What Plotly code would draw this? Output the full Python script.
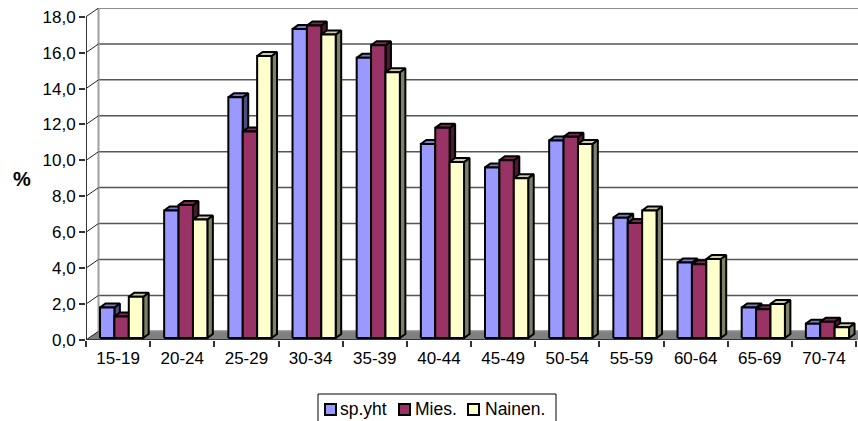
import plotly.graph_objects as go

categories = ["15-19","20-24","25-29","30-34","35-39","40-44","45-49","50-54","55-59","60-64","65-69","70-74"]
sp_yht = [1.7,7.1,13.4,17.2,15.6,10.8,9.5,11.0,6.7,4.2,1.7,0.8]
mies = [1.2,7.4,11.5,17.4,16.3,11.7,9.9,11.2,6.4,4.1,1.6,0.9]
nainen = [2.3,6.6,15.7,16.9,14.8,9.8,8.9,10.8,7.1,4.4,1.9,0.6]
series_names = ["sp.yht","Mies.","Nainen."]
y_ticks = [0,2,4,6,8,10,12,14,16,18]

W, H = 858, 421
L, T, B = 86, 8, 340
PX_X = 64.17
PX_Y = 17.96
x_min = -0.5
x_max = x_min + (W - L) / PX_X
y_max = (B - T) / PX_Y
FONT = "Liberation Sans"

wall_dx = 12.5 / PX_X
wall_dy = 8.7 / PX_Y
bar_w = 14.4 / PX_X
bar_dx = 5.5 / PX_X
bar_dy = 4.0 / PX_Y
lift = 2.0 / PX_Y
shift = 3.5 / PX_X

front = ["#9999FF", "#993366", "#FFFFCC"]
top = ["#7A7ACC", "#7A2952", "#CCCCA3"]
side = ["#4D4D80", "#4D1A33", "#808066"]
all_values = [sp_yht, mies, nainen]

fig = go.Figure()

def poly(xs, ys, fill=None, color="black", width=1.0):
    fig.add_trace(go.Scatter(
        x=xs, y=ys, mode="lines", fill="toself" if fill else "none",
        fillcolor=fill, line=dict(color=color, width=width),
        hoverinfo="skip", showlegend=False))

# floor
poly([x_min, x_max, x_max, x_min + wall_dx, x_min],
     [0, 0, wall_dy, wall_dy, 0], fill="#808080", color="#808080", width=0.5)

# back wall gridlines and left wall
for v in y_ticks:
    col = "#8c8c8c" if v in (0, 18) else "#555555"
    w = 2 if v in (0, 18) else 1.5
    poly([x_min + wall_dx, x_max], [v + wall_dy, v + wall_dy], color=col, width=w)
poly([x_min + wall_dx, x_min + wall_dx], [wall_dy, 18 + wall_dy], color="#a0a0a0", width=2)
for v in y_ticks:
    poly([x_min, x_min + wall_dx], [v, v + wall_dy], color="#222222", width=1)

# bars
for i in range(len(categories)):
    for s in range(3):
        v = all_values[s][i]
        x0 = i + shift + (s - 1.5) * bar_w
        x1 = x0 + bar_w
        y0 = lift
        y1 = lift + v
        poly([x1, x1 + bar_dx, x1 + bar_dx, x1, x1],
             [y0, y0 + bar_dy, y1 + bar_dy, y1, y0], fill=side[s], width=2)
        poly([x0, x0 + bar_dx, x1 + bar_dx, x1, x0],
             [y1, y1 + bar_dy, y1 + bar_dy, y1, y1], fill=top[s], width=2)
        poly([x0, x1, x1, x0, x0], [y0, y0, y1, y1, y0], fill=front[s], width=2)

# front axis lines
poly([x_min, x_min], [0, 18], color="#333333", width=2)
poly([x_min, x_min + 12], [0, 0], color="#333333", width=2)

shapes = [dict(type="rect", xref="paper", yref="paper",
               x0=(318 - L) / (W - L), x1=(556 - L) / (W - L),
               y0=(B - 424) / (B - T), y1=(B - 394) / (B - T),
               line=dict(color="black", width=1), fillcolor="white")]
annotations = [dict(text="<b>%</b>", xref="paper", yref="paper",
                    x=(21.5 - L) / (W - L), y=(B - 179) / (B - T),
                    xanchor="center", yanchor="middle",
                    showarrow=False, font=dict(family=FONT, size=20, color="black"))]
sw_x = [325, 399, 468]
txt_x = [340, 415, 485]
for s, name in enumerate(series_names):
    shapes.append(dict(type="rect", xref="paper", yref="paper",
                       x0=(sw_x[s] - L) / (W - L), x1=(sw_x[s] + 11 - L) / (W - L),
                       y0=(B - 415) / (B - T), y1=(B - 404) / (B - T),
                       line=dict(color="black", width=2), fillcolor=front[s]))
    annotations.append(dict(text=name, xref="paper", yref="paper",
                            x=(txt_x[s] - L) / (W - L), y=(B - 409) / (B - T),
                            xanchor="left", yanchor="middle", showarrow=False, xshift=-2,
                            font=dict(family=FONT, size=17.5, color="black")))

fig.update_layout(
    width=W, height=H, autosize=False,
    margin=dict(l=L, r=0, t=T, b=H - B, pad=0),
    paper_bgcolor="white", plot_bgcolor="white",
    separators=", ", showlegend=False, shapes=shapes, annotations=annotations,
    font=dict(family=FONT, size=17, color="black"),
    xaxis=dict(range=[x_min, x_max], tickmode="array", tickvals=list(range(len(categories))),
               ticktext=categories, ticks="", showgrid=False, zeroline=False, showline=False,
               tickfont=dict(size=17), ticklabelstandoff=6,
               minor=dict(tickmode="array", tickvals=[i - 0.5 for i in range(13)],
                          ticks="outside", ticklen=6, tickcolor="#333333", tickwidth=1.5, showgrid=False)),
    yaxis=dict(range=[0, y_max], tickmode="array", tickvals=y_ticks, tickformat=".1f",
               ticks="outside", ticklen=6, tickcolor="#333333", tickwidth=1.5, showgrid=False, zeroline=False,
               showline=False, tickfont=dict(size=17)),
)
fig.write_html("out.html", config=dict(displayModeBar=False),
               post_script="document.body.style.margin='0';document.body.style.overflow='hidden';")
